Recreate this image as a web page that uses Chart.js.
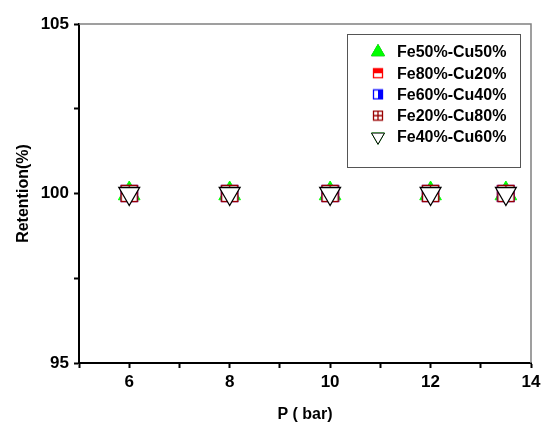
<!DOCTYPE html>
<html>
<head>
<meta charset="utf-8">
<script src="https://cdn.jsdelivr.net/npm/chart.js@4.4.0/dist/chart.umd.min.js"></script>
<style>
  html, body { margin: 0; padding: 0; background: #fff; }
  #wrap { width: 542px; height: 424px; }
</style>
</head>
<body>
<div id="wrap"><canvas id="c" width="542" height="424"></canvas></div>
<script>
// data
const pressure = [6, 8, 10, 12, 13.5];
const fe50cu50 = [100, 100, 100, 100, 100];
const fe80cu20 = [100, 100, 100, 100, 100];
const fe60cu40 = [100, 100, 100, 100, 100];
const fe20cu80 = [100, 100, 100, 100, 100];
const fe40cu60 = [100, 100, 100, 100, 100];
const seriesNames = ["Fe50%-Cu50%", "Fe80%-Cu20%", "Fe60%-Cu40%", "Fe20%-Cu80%", "Fe40%-Cu60%"];
const xLabelTicks = [6, 8, 10, 12, 14];
const yLabelTicks = [95, 100, 105];

const FONT = "'Liberation Sans', Arial, sans-serif";

// square markers with half fill / cross
function squareMarker(size, color, kind) {
  var cv = document.createElement('canvas');
  cv.width = size + 2; cv.height = size + 2;
  var g = cv.getContext('2d');
  var o = 1.5, s = size - 1;
  g.fillStyle = '#fff';
  g.fillRect(o, o, s, s);
  g.fillStyle = color;
  if (kind === 'top') g.fillRect(o, o, s, s / 2);
  if (kind === 'right') g.fillRect(o + s / 2, o, s / 2, s);
  g.strokeStyle = color;
  g.lineWidth = 1.3;
  g.strokeRect(o, o, s, s);
  if (kind === 'cross') {
    g.beginPath();
    g.moveTo(o + s / 2, o); g.lineTo(o + s / 2, o + s);
    g.moveTo(o, o + s / 2); g.lineTo(o + s, o + s / 2);
    g.stroke();
  }
  return cv;
}

function pts(arr) {
  return pressure.map(function (p, i) { return { x: p, y: arr[i] }; });
}

const redBig = squareMarker(17, '#ff0000', 'top');
const blueBig = squareMarker(17, '#0000ff', 'right');
const brownBig = squareMarker(17, '#990000', 'cross');

const datasets = [
  { label: seriesNames[0], data: pts(fe50cu50), pointStyle: 'triangle', pointRadius: 12.5,
    backgroundColor: '#00ff00', borderColor: '#00ff00', borderWidth: 1, order: 5 },
  { label: seriesNames[1], data: pts(fe80cu20), pointStyle: redBig, pointRadius: 9,
    backgroundColor: '#ff0000', borderColor: '#ff0000', order: 4 },
  { label: seriesNames[2], data: pts(fe60cu40), pointStyle: blueBig, pointRadius: 9,
    backgroundColor: '#0000ff', borderColor: '#0000ff', order: 3 },
  { label: seriesNames[3], data: pts(fe20cu80), pointStyle: brownBig, pointRadius: 9,
    backgroundColor: '#990000', borderColor: '#990000', order: 2 },
  { label: seriesNames[4], data: pts(fe40cu60), pointStyle: 'triangle', rotation: 180, pointRadius: 12,
    backgroundColor: '#ffffff', borderColor: '#000000', borderWidth: 1.3, order: 1 }
];
datasets.forEach(function (d) { d.showLine = false; d.pointHoverRadius = d.pointRadius; });

// top/right frame in grey
const framePlugin = {
  id: 'frame',
  afterDatasetsDraw: function (chart) {
    var a = chart.chartArea, ctx = chart.ctx;
    ctx.save();
    ctx.strokeStyle = '#808080';
    ctx.lineWidth = 1.5;
    ctx.beginPath();
    ctx.moveTo(a.left, a.top); ctx.lineTo(a.right, a.top); ctx.lineTo(a.right, a.bottom);
    ctx.stroke();
    ctx.restore();
  }
};

// boxed legend inside the plot
const boxLegend = {
  id: 'boxLegend',
  afterDraw: function (chart) {
    var ctx = chart.ctx;
    ctx.save();
    ctx.strokeStyle = '#555';
    ctx.lineWidth = 1;
    ctx.strokeRect(347.5, 34.5, 173, 133);
    var y0 = 52, dy = 21.2, sx = 378, tx = 397;
    ctx.font = 'bold 16px ' + FONT;
    ctx.textBaseline = 'middle';
    ctx.fillStyle = '#000';
    var small = [null, squareMarker(10, '#ff0000', 'top'), squareMarker(10, '#0000ff', 'right'),
                 squareMarker(10, '#990000', 'cross'), null];
    chart.data.datasets.forEach(function (d, i) {
      var y = y0 + i * dy;
      if (i === 0 || i === 4) {
        Chart.helpers.drawPoint(ctx, {
          pointStyle: 'triangle', radius: 7.5, rotation: i === 4 ? 180 : 0, borderWidth: 1
        }, sx, y);
        ctx.fillStyle = d.backgroundColor;
        ctx.strokeStyle = d.borderColor;
        ctx.fill();
        ctx.stroke();
      } else {
        ctx.drawImage(small[i], sx - small[i].width / 2, y - small[i].height / 2);
      }
      ctx.fillStyle = '#000';
      ctx.fillText(d.label, tx, y + 1);
    });
    ctx.restore();
  }
};

new Chart(document.getElementById('c'), {
  type: 'scatter',
  data: { datasets: datasets },
  options: {
    responsive: false,
    animation: false,
    layout: { autoPadding: false, padding: { top: 24, right: 11, left: 10, bottom: 0 } },
    plugins: { legend: { display: false }, tooltip: { enabled: false } },
    scales: {
      x: {
        type: 'linear', min: 5, max: 14,
        afterFit: function (s) { s.height = 61; s.paddingRight = 0; },
        ticks: {
          stepSize: 1, autoSkip: false, maxRotation: 0, padding: 4,
          color: '#000', font: { family: FONT, size: 17, weight: 'bold' },
          callback: function (v) { return xLabelTicks.indexOf(v) >= 0 ? String(v) : ''; }
        },
        grid: { drawOnChartArea: false, tickLength: 5, tickWidth: 2, tickColor: '#000' },
        border: { color: '#000', width: 2 },
        title: { display: true, text: 'P ( bar)', color: '#000', padding: { top: 4, bottom: 0 },
                 font: { family: FONT, size: 16, weight: 'bold' } }
      },
      y: {
        min: 95, max: 105,
        afterFit: function (s) { s.width = 69; },
        ticks: {
          stepSize: 2.5, autoSkip: false, padding: 5,
          color: '#000', font: { family: FONT, size: 17, weight: 'bold' },
          callback: function (v) { return yLabelTicks.indexOf(v) >= 0 ? String(v) : ''; }
        },
        grid: { drawOnChartArea: false, tickLength: 5, tickWidth: 2, tickColor: '#000' },
        border: { color: '#000', width: 2 },
        title: { display: true, text: 'Retention(%)', color: '#000', padding: 4,
                 font: { family: FONT, size: 16, weight: 'bold' } }
      }
    }
  },
  plugins: [framePlugin, boxLegend]
});
</script>
</body>
</html>
